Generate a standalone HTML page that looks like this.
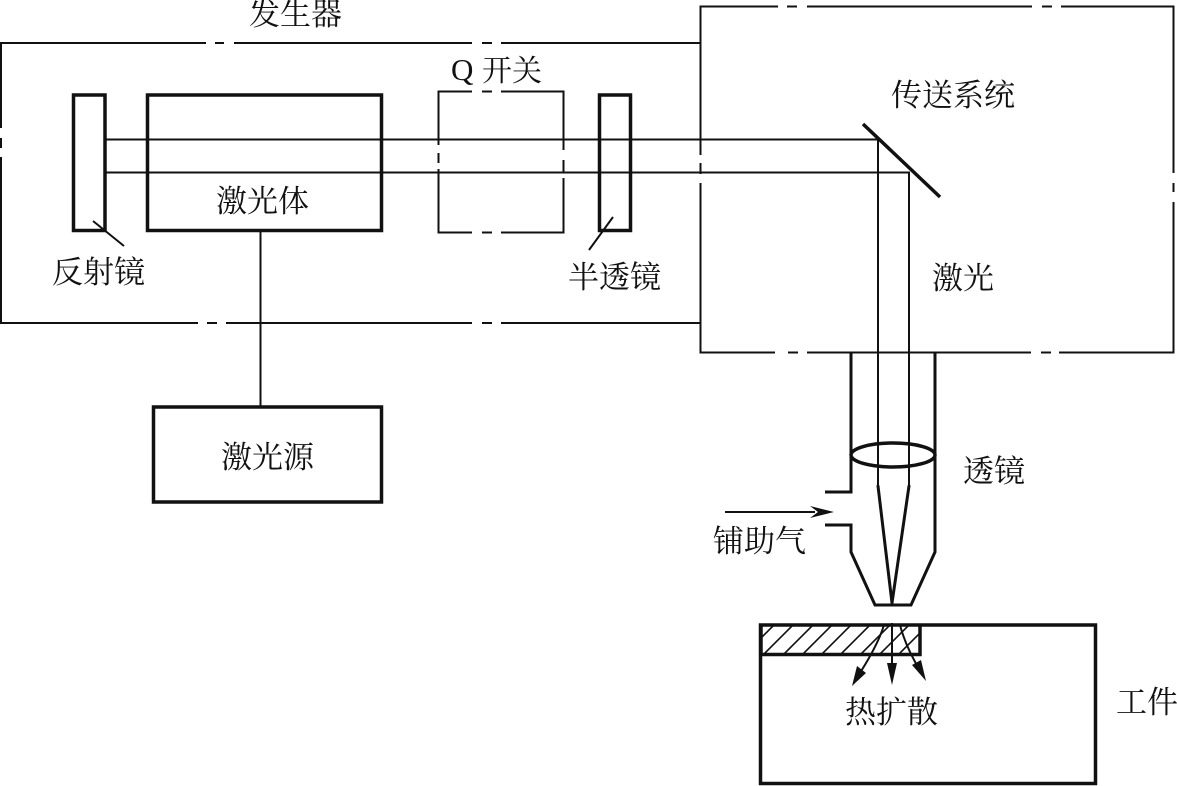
<!DOCTYPE html>
<html lang="zh">
<head>
<meta charset="utf-8">
<style>
html,body{margin:0;padding:0;background:#fff;width:1177px;height:786px;overflow:hidden}
svg{display:block}
text{font-family:"Liberation Serif","Noto Serif CJK SC",serif;font-size:31px;fill:#111}
</style>
</head>
<body>
<svg width="1177" height="786" viewBox="0 0 1177 786" xmlns="http://www.w3.org/2000/svg">
<rect width="1177" height="786" fill="#fff"/>
<defs>
<clipPath id="hatch"><rect x="760" y="625" width="160" height="30"/></clipPath>
</defs>
<!-- thin lines -->
<g fill="none" stroke="#111" stroke-width="2">
  <!-- generator housing -->
  <path d="M206 43H1V128M1 138V148M1 157V323H198M207 323H217M226 323H472M482 323H492M501 323H700"/>
  <path d="M215 43H224M234 43H472M482 43H492M501 43H700"/>
  <!-- delivery system -->
  <path d="M700.500 155V6.500H778M787 6.500H797M807 6.500H1032M1042 6.500H1052M1061 6.500H1173.500V173M1173.500 183V192M1173.500 202V352.500H1059M1051 352.500H1041M1031 352.500H807M798 352.500H788M775 352.500H700.500V183M700.500 163V174"/>
  <!-- Q switch -->
  <path d="M472 91.500H438.500V145M438.500 153V163M438.500 169V232.500H472M482 232.500H492M501 232.500H563.500V178M563.500 160V172M563.500 150V91.500H501M492 91.500H482"/>
  <!-- beams -->
  <path d="M105 139.500H878V488"/>
  <path d="M105 172.500H909V488"/>
  <!-- connector -->
  <path d="M260.500 232V406"/>
  <!-- leaders -->
  <path d="M93 221L124 246M613 217L589 250"/>
  <!-- gas arrow -->
  <path d="M725 512H815"/>
</g>
<path d="M810 506L834 512L810 518L818 512Z" fill="#111"/>
<!-- converging beam -->
<path d="M878 486L892 603M909 486L892 603" fill="none" stroke="#111" stroke-width="3" stroke-linecap="round"/>
<!-- thick shapes -->
<g fill="none" stroke="#111" stroke-width="3">
  <rect x="73.500" y="95" width="31.500" height="135.500" stroke-width="3.500"/>
  <rect x="147.500" y="95" width="234" height="135.500" stroke-width="3.500"/>
  <rect x="599.500" y="95" width="31" height="135.500" stroke-width="3.500"/>
  <rect x="153.500" y="407" width="228" height="95" stroke-width="3.500"/>
  <path d="M863 124L940 197" stroke-width="3.500"/>
  <path d="M851 352V492H825M825 525H851V552L875 605H911L935 552V352"/>
  <ellipse cx="893" cy="455" rx="42" ry="12" stroke-width="3.500"/>
  <rect x="760.500" y="625" width="335" height="158.500" stroke-width="3.500"/>
  <path d="M760 654.500H920V625" stroke-width="3.500"/>
</g>
<path d="M761 625V655" stroke="#111" stroke-width="3.500"/>
<!-- hatch -->
<g clip-path="url(#hatch)" stroke="#111" stroke-width="1.600" fill="none">
  <path d="M744 655L774 625M763 655L793 625M783 655L813 625M802 655L832 625M821 655L851 625M840 655L870 625M860 655L890 625M879 655L909 625M898 655L928 625"/>
</g>
<!-- heat arrows -->
<g stroke="#111" stroke-width="2" fill="none">
  <path d="M884 625Q878 645 858 676"/>
  <path d="M892 623V672"/>
  <path d="M900 625Q906 648 921 672"/>
</g>
<g fill="#111">
  <path d="M852 686L857 666L866 673Z"/>
  <path d="M892 685L887 663L897 663Z"/>
  <path d="M926 681L912 665L921 660Z"/>
</g>
<!-- labels -->
<text x="249" y="25">发生器</text>
<text x="52" y="283">反射镜</text>
<text x="216" y="212">激光体</text>
<text x="221" y="468">激光源</text>
<text x="451" y="80" style="font-size:31px">Q</text>
<text x="482" y="81" style="font-size:30px">开关</text>
<text x="568" y="288">半透镜</text>
<text x="891" y="106">传送系统</text>
<text x="932" y="289">激光</text>
<text x="963" y="482">透镜</text>
<text x="713" y="552">铺助气</text>
<text x="845" y="723">热扩散</text>
<text x="1116" y="713">工件</text>
</svg>
</body>
</html>
